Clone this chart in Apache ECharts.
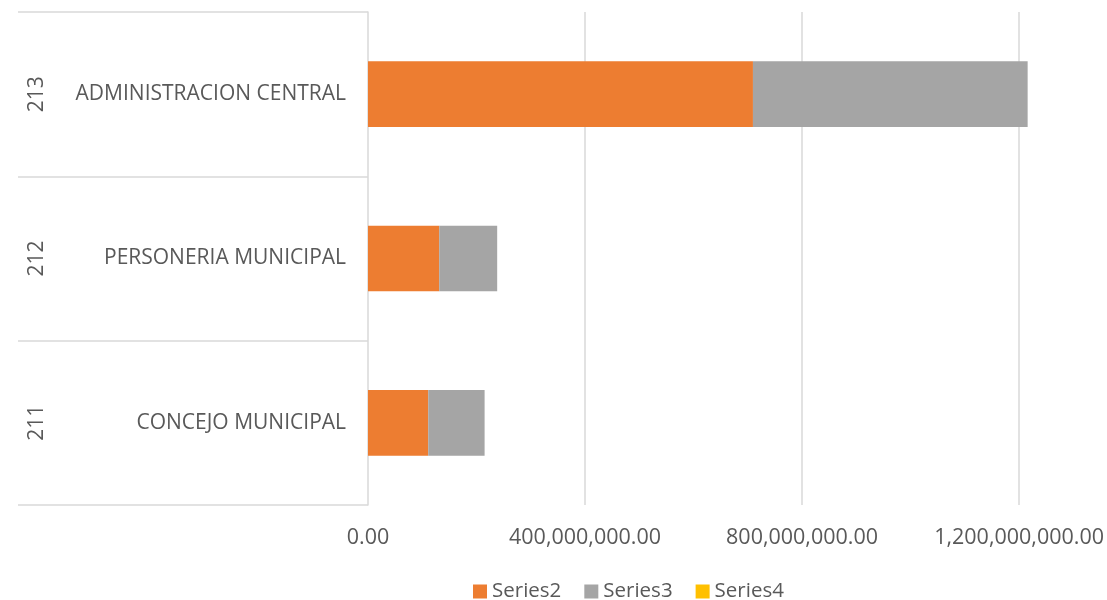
<!DOCTYPE html>
<html>
<head>
<meta charset="utf-8">
<script src="https://cdn.jsdelivr.net/npm/echarts@6/dist/echarts.min.js"></script>
<style>
html, body { margin: 0; padding: 0; background: #fff; }
#chart { width: 1107px; height: 600px; }
</style>
</head>
<body>
<div id="chart"></div>
<script>
// 分类（自下而上）
var codes = ['211', '212', '213'];
var names = ['CONCEJO MUNICIPAL', 'PERSONERIA MUNICIPAL', 'ADMINISTRACION CENTRAL'];
var seriesNames = ['Series2', 'Series3', 'Series4'];
var series2 = [111000000, 131300000, 709500000];
var series3 = [103900000, 106800000, 506300000];
var series4 = [0, 0, 0];
var xTicks = [0, 400000000, 800000000, 1200000000];

var chart = echarts.init(document.getElementById('chart'));
var textColor = '#595959';
var font = '"Open Sans", sans-serif';

function fmt (v) {
    return v.toLocaleString('en-US', { minimumFractionDigits: 2, maximumFractionDigits: 2 });
}

var option = {
    backgroundColor: '#fff',
    animation: false,
    color: ['#ed7d31', '#a5a5a5', '#ffc000'],
    legend: {
        data: seriesNames,
        left: 473,
        top: 581,
        padding: 0,
        icon: 'rect',
        itemWidth: 14,
        itemHeight: 14,
        itemGap: 23,
        textStyle: { color: textColor, fontSize: 20.5, fontFamily: font }
    },
    grid: {
        left: 368,
        right: 7,
        top: 12,
        bottom: 95,
        containLabel: false
    },
    xAxis: {
        type: 'value',
        min: 0,
        max: 1349000000,
        interval: 400000000,
        axisLine: { show: false },
        axisTick: { show: false },
        axisLabel: {
            color: textColor,
            fontSize: 21.5,
            fontFamily: font,
            margin: 22,
            showMaxLabel: false,
            formatter: function (v) {
                return xTicks.indexOf(v) >= 0 ? fmt(v) : '';
            }
        },
        splitLine: {
            show: true,
            showMinLine: false,
            showMaxLine: false,
            lineStyle: { color: '#d9d9d9', width: 1.5 }
        }
    },
    yAxis: [{
        type: 'category',
        data: names,
        position: 'left',
        axisLine: { show: true, lineStyle: { color: '#d9d9d9', width: 1.5 } },
        axisTick: {
            show: true,
            length: 350,
            lineStyle: { color: '#d9d9d9', width: 1.5 }
        },
        axisLabel: {
            color: textColor,
            fontSize: 21,
            fontFamily: font,
            margin: 22
        }
    }, {
        type: 'category',
        data: codes,
        position: 'left',
        axisLine: { show: false },
        axisTick: { show: false },
        axisLabel: {
            color: textColor,
            fontSize: 21,
            fontFamily: font,
            rotate: 90,
            margin: 320
        }
    }],
    series: [{
        name: seriesNames[0],
        type: 'bar',
        stack: 'total',
        barWidth: '40%',
        data: series2
    }, {
        name: seriesNames[1],
        type: 'bar',
        stack: 'total',
        barWidth: '40%',
        data: series3
    }, {
        name: seriesNames[2],
        type: 'bar',
        stack: 'total',
        barWidth: '40%',
        data: series4
    }]
};
chart.setOption(option);
</script>
</body>
</html>
